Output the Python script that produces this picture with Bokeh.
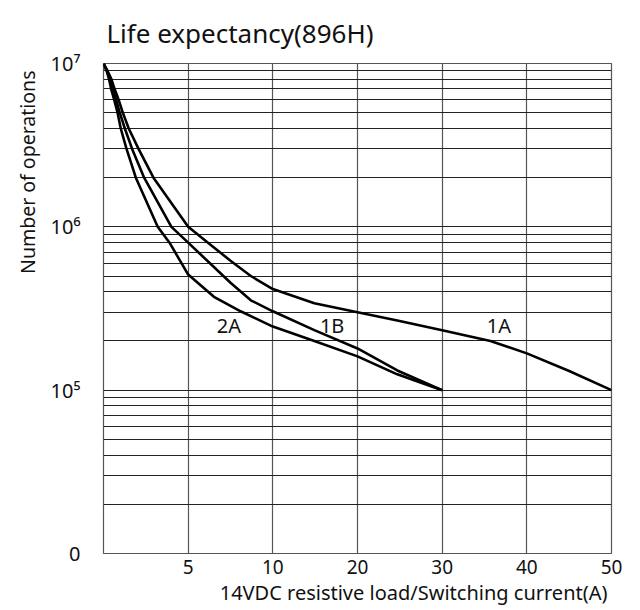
import numpy as np
from bokeh.plotting import figure
from bokeh.models import FixedTicker, ColumnDataSource, Title
from bokeh.core.properties import value
from bokeh.embed import file_html
from bokeh.resources import INLINE

# ---- data ----
# x axis: grid columns are equally spaced for these current values
x_tick_values = [0, 5, 10, 20, 30, 40, 50]
x_tick_labels = ["", "5", "10", "20", "30", "40", "50"]
y_tick_values = [1e4, 1e5, 1e6, 1e7]
y_tick_labels = ["0", "10⁵", "10⁶", "10⁷"]

current_2A = [0, 0.19, 0.33, 0.45, 0.63, 0.83, 1.02, 1.36, 1.91, 3.2, 3.9, 5.0, 6.52, 8.1, 10, 14.9, 20, 24.7, 30]
ops_2A = [1e7, 9e6, 8e6, 7e6, 6e6, 5e6, 4e6, 3e6, 2e6, 1e6, 8e5, 5.1e5, 3.73e5, 3.04e5, 2.45e5, 2.0e5, 1.61e5, 1.25e5, 1.0e5]

current_1B = [0, 0.2, 0.39, 0.55, 0.74, 0.96, 1.26, 1.69, 2.40, 4.01, 5.0, 7.5, 8.7, 10, 14.9, 20, 24.7, 30]
ops_1B = [1e7, 9e6, 8e6, 7e6, 6e6, 5e6, 4e6, 3e6, 2e6, 1e6, 8e5, 4.55e5, 3.55e5, 3.04e5, 2.33e5, 1.8e5, 1.32e5, 1.0e5]

current_1A = [0, 0.24, 0.47, 0.65, 0.89, 1.14, 1.49, 2.07, 2.95, 5.0, 6.17, 7.5, 8.7, 10, 14.9, 20, 24.7, 30, 35.7, 40, 45, 50]
ops_1A = [1e7, 9e6, 8e6, 7e6, 6e6, 5e6, 4e6, 3e6, 2e6, 1e6, 8e5, 6.2e5, 5.0e5, 4.16e5, 3.41e5, 3.0e5, 2.67e5, 2.33e5, 2.0e5, 1.68e5, 1.31e5, 1.0e5]

series_names = ["2A", "1B", "1A"]
label_current = [7.4, 17, 36.7]
label_ops = [2.5e5, 2.5e5, 2.5e5]

title_text = "Life expectancy(896H)"
x_title = "14VDC resistive load/Switching current(A)"
y_title = "Number of operations"

FONT = "Noto Sans"


def to_pos(x):
    """Map current values onto the chart's equally spaced grid columns."""
    return np.interp(np.asarray(x, dtype=float), x_tick_values, np.arange(len(x_tick_values)))


p = figure(
    frame_width=508, frame_height=490,
    x_range=(0, len(x_tick_values) - 1), y_range=(1e4, 1e7),
    y_axis_type="log",
    output_backend="svg", toolbar_location=None,
    min_border_left=103, min_border_right=20, min_border_top=63, min_border_bottom=0,
)

p.title.text = title_text
p.title.text_font = FONT
p.title.text_font_size = "26px"
p.title.text_font_style = "normal"
p.title.text_color = "#111111"
p.title.offset = 3
p.title.standoff = 22
p.title.vertical_align = "top"

# grid
p.xgrid.ticker = FixedTicker(ticks=list(range(len(x_tick_values))))
p.xgrid.grid_line_color = "#555555"
p.xgrid.grid_line_width = 1.2
minor = [m * 10 ** k for k in range(4, 7) for m in range(1, 10)] + [1e7]
p.ygrid.ticker = FixedTicker(ticks=minor)
p.ygrid.grid_line_color = "#222222"
p.ygrid.grid_line_width = 1

p.outline_line_color = "#555555"
p.outline_line_width = 1.2

# axes
p.xaxis.ticker = FixedTicker(ticks=list(range(1, len(x_tick_values))))
p.xaxis.major_label_overrides = {i: lab for i, lab in enumerate(x_tick_labels) if lab}
p.yaxis.ticker = FixedTicker(ticks=y_tick_values)
p.yaxis.major_label_overrides = {v: lab for v, lab in zip(y_tick_values, y_tick_labels)}
for ax in (p.xaxis, p.yaxis):
    ax.axis_line_color = None
    ax.major_tick_line_color = None
    ax.minor_tick_line_color = None
    ax.major_label_text_font = FONT
    ax.major_label_text_font_size = "20px"
    ax.major_label_text_color = "#111111"
p.xaxis.major_label_text_font_size = "19px"
p.xaxis.major_label_standoff = 0
p.yaxis.major_label_standoff = 17

yt = Title(text=y_title, align="right",
           text_font=FONT, text_font_size="19.5px", text_font_style="normal",
           text_color="#111111", offset=7, standoff=14)
p.add_layout(yt, "left")

xt = Title(text=x_title, align="right",
           text_font=FONT, text_font_size="20px", text_font_style="normal",
           text_color="#111111", offset=4, standoff=0)
p.add_layout(xt, "below")

for cur, ops in ((current_2A, ops_2A), (current_1B, ops_1B), (current_1A, ops_1A)):
    p.line(to_pos(cur), ops, line_color="black", line_width=2.6, line_join="round")

lab_src = ColumnDataSource(dict(x=to_pos(label_current), y=label_ops, t=series_names))
p.text(x="x", y="y", text="t", source=lab_src, text_align="center", text_baseline="middle",
       text_font=value(FONT), text_font_size="20px", text_color="#111111")

open("out.html", "w").write(file_html(p, INLINE))
